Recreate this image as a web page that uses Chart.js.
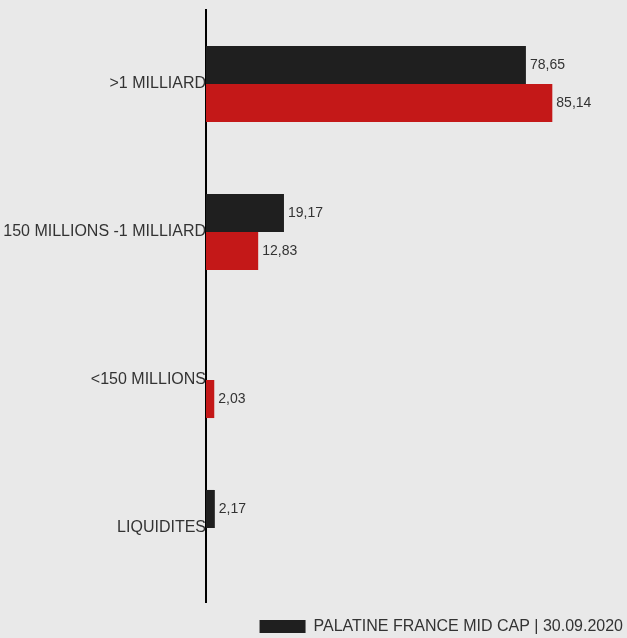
<!DOCTYPE html>
<html>
<head>
<meta charset="utf-8">
<script src="https://cdn.jsdelivr.net/npm/chart.js@4"></script>
<style>
  html, body { margin: 0; padding: 0; background: #e9e9e9; overflow: hidden; }
  #wrap { width: 627px; height: 638px; position: relative; }
</style>
</head>
<body>
<div id="wrap"><canvas id="myChart"></canvas></div>
<script>
const categories = ['>1 MILLIARD', '150 MILLIONS -1 MILLIARD', '<150 MILLIONS', 'LIQUIDITES'];
const fundValues = [78.65, 19.17, null, 2.17];
const indexValues = [85.14, 12.83, 2.03, null];
const seriesNames = ['PALATINE FRANCE MID CAP | 30.09.2020', 'INDICE DE RÉFÉRENCE | 30.09.2020'];

const FONT = '"Liberation Sans", Arial, sans-serif';

// value labels at the end of each bar, french decimal comma
const valueLabels = {
    id: 'valueLabels',
    afterDatasetsDraw(chart) {
        const c = chart.ctx;
        c.save();
        c.font = '14px ' + FONT;
        c.fillStyle = '#333';
        c.textBaseline = 'middle';
        c.textAlign = 'left';
        chart.data.datasets.forEach((ds, i) => {
            chart.getDatasetMeta(i).data.forEach((bar, j) => {
                const v = ds.data[j];
                if (v === null || v === undefined) return;
                c.fillText(v.toFixed(2).replace('.', ','), bar.x + 4, bar.y);
            });
        });
        c.restore();
    }
};

const ctx = document.getElementById('myChart').getContext('2d');

const myChart = new Chart(ctx, {
    type: 'bar',
    data: {
        labels: categories,
        datasets: [
            {
                label: seriesNames[0],
                data: fundValues,
                backgroundColor: '#1f1f1f',
                categoryPercentage: 0.514,
                barPercentage: 1
            },
            {
                label: seriesNames[1],
                data: indexValues,
                backgroundColor: '#c41818',
                categoryPercentage: 0.514,
                barPercentage: 1
            }
        ]
    },
    options: {
        indexAxis: 'y',
        responsive: true,
        maintainAspectRatio: false,
        animation: false,
        layout: {
            padding: { top: 10, right: 0, left: 0, bottom: -6.5 }
        },
        plugins: {
            legend: {
                position: 'bottom',
                align: 'end',
                labels: {
                    filter: (item) => item.datasetIndex === 0,
                    boxWidth: 46,
                    boxHeight: 13,
                    padding: 4,
                    color: '#333',
                    font: { size: 16, family: FONT }
                }
            },
            tooltip: { enabled: false }
        },
        scales: {
            x: {
                display: true,
                min: 0,
                max: 103.5,
                afterFit: (scale) => { scale.height = 12.5; },
                grid: { display: false },
                border: { display: false },
                ticks: { display: false }
            },
            y: {
                afterFit: (scale) => { scale.width = 206; },
                grid: { display: false, drawTicks: false },
                border: { display: true, color: '#000', width: 2 },
                ticks: {
                    padding: 0,
                    color: '#333',
                    font: { size: 16, family: FONT }
                }
            }
        }
    },
    plugins: [valueLabels]
});
</script>
</body>
</html>
